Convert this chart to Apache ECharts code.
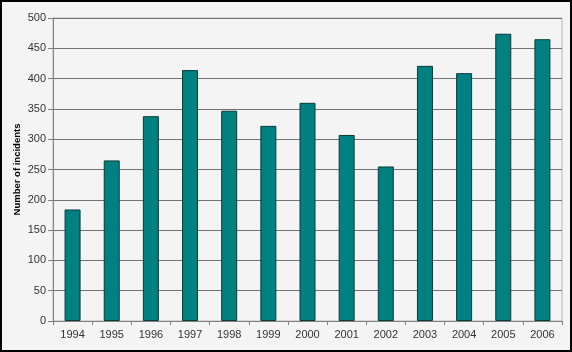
<!DOCTYPE html>
<html>
<head>
<meta charset="utf-8">
<script src="https://cdn.jsdelivr.net/npm/echarts@6/dist/echarts.min.js"></script>
<style>
  html, body { margin: 0; padding: 0; background: #f4f4f4; }
  #chart { width: 572px; height: 352px; }
</style>
</head>
<body>
<div id="chart"></div>
<script>
// categories and values
const years = ['1994', '1995', '1996', '1997', '1998', '1999', '2000',
  '2001', '2002', '2003', '2004', '2005', '2006']
const incidents = [184, 265, 338, 414, 347, 322, 360, 307, 255, 421, 409, 474, 465]

const chart = echarts.init(document.getElementById('chart'))

const option = {
  backgroundColor: '#f4f4f4',
  animation: false,
  textStyle: { fontFamily: 'Liberation Sans, Arial, sans-serif' },
  graphic: [{
    type: 'rect',
    shape: { x: 1, y: 1, width: 570, height: 350 },
    style: { fill: 'none', stroke: '#000', lineWidth: 2 },
    silent: true
  }],
  grid: {
    left: 53, right: 10, top: 18, bottom: 31,
    show: true,
    borderColor: '#b8b8b8',
    borderWidth: 1
  },
  xAxis: {
    type: 'category',
    data: years,
    axisLine: { lineStyle: { color: '#808080' } },
    axisTick: { show: true, length: 4, lineStyle: { color: '#808080' } },
    axisLabel: { color: '#333', fontSize: 11, margin: 8 },
    splitLine: { show: false }
  },
  yAxis: {
    type: 'value',
    min: 0,
    max: 500,
    interval: 50,
    name: 'Number of incidents',
    nameLocation: 'middle',
    nameGap: 31,
    nameMoveOverlap: false,
    nameTextStyle: { color: '#000', fontSize: 9.5, fontWeight: 'bold' },
    axisLine: { show: true, lineStyle: { color: '#808080' } },
    axisTick: { show: true, length: 5, lineStyle: { color: '#808080' } },
    axisLabel: { color: '#333', fontSize: 11, margin: 7 },
    splitLine: { lineStyle: { color: '#737373', width: 1 } }
  },
  series: [{
    type: 'bar',
    data: incidents,
    barWidth: 16,
    itemStyle: { color: '#008080', borderColor: '#0b3b3b', borderWidth: 1 }
  }]
}

chart.setOption(option)
</script>
</body>
</html>
